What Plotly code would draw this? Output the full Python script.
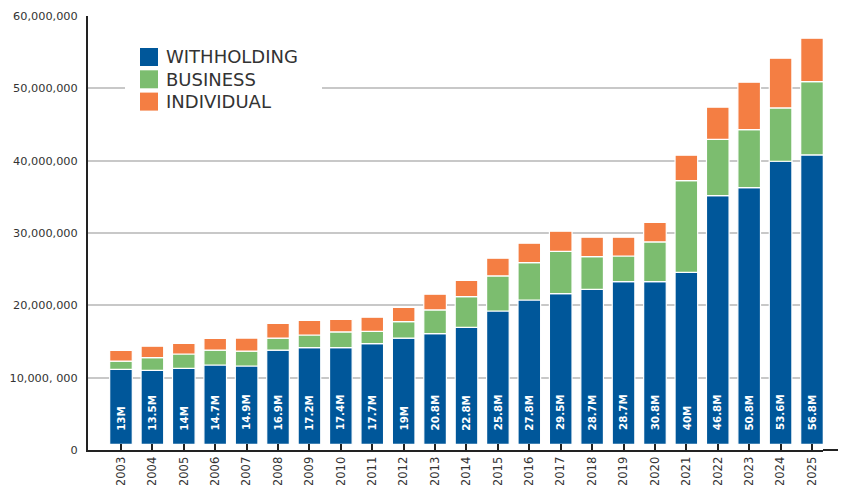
import plotly.graph_objects as go

# ---------------- data (millions) ----------------
years = [str(y) for y in range(2003, 2026)]
withholding = [10.37, 10.24, 10.51, 10.97, 10.83, 13.04, 13.37, 13.37, 13.93, 14.70, 15.31, 16.18,
               18.44, 19.96, 20.84, 21.44, 22.50, 22.50, 23.79, 34.40, 35.50, 39.14, 40.01]
business = [1.15, 1.75, 1.98, 2.07, 2.07, 1.66, 1.75, 2.17, 1.70, 2.26, 3.27, 4.25,
            4.84, 5.17, 5.85, 4.52, 3.54, 5.48, 12.68, 7.75, 8.02, 7.37, 10.15]
individual = [1.48, 1.57, 1.48, 1.62, 1.80, 2.03, 2.03, 1.75, 1.94, 1.98, 2.17, 2.25,
              2.45, 2.67, 2.77, 2.67, 2.59, 2.72, 3.50, 4.47, 6.54, 6.87, 5.99]
total_labels = ["13M", "13.5M", "14M", "14.7M", "14.9M", "16.9M", "17.2M", "17.4M", "17.7M", "19M",
                "20.8M", "22.8M", "25.8M", "27.8M", "29.5M", "28.7M", "28.7M", "30.8M", "40M",
                "46.8M", "50.8M", "53.6M", "56.8M"]
series_names = ["WITHHOLDING", "BUSINESS", "INDIVIDUAL"]
y_tick_values = [0, 10e6, 20e6, 30e6, 40e6, 50e6, 60e6]
y_tick_labels = ["0", "10,000, 000", "20,000,000", "30,000,000", "40,000,000", "50,000,000", "60,000,000"]

# ---------------- styling ----------------
BAR_BASE = 0.78e6  # bars float slightly above the axis in the original
COLORS = ["#00579a", "#7cbd6f", "#f47e43"]
FONT = "DejaVu Sans"
TEXT_COLOR = "#333333"

# page has an 8px body margin -> figure coordinates are page coordinates minus 8
OFF = 8
FIG_W, FIG_H = 846 - OFF, 485 - OFF

M = 1e6
w = [v * M for v in withholding]
b = [v * M for v in business]
i = [v * M for v in individual]
base_w = [BAR_BASE] * len(years)
base_b = [BAR_BASE + a for a in w]
base_i = [BAR_BASE + a + c for a, c in zip(w, b)]

fig = go.Figure()
for vals, base, color, name in zip([w, b, i], [base_w, base_b, base_i], COLORS, series_names):
    fig.add_trace(go.Bar(
        x=years, y=vals, base=base, name=name,
        marker=dict(color=color, line=dict(color="white", width=1.2)),
        showlegend=False,
    ))

# bar labels (totals) inside the withholding bars
annotations = []
for idx, lab in enumerate(total_labels):
    annotations.append(dict(
        x=idx, y=BAR_BASE, xref="x", yref="y", text=lab, showarrow=False,
        textangle=-90, yanchor="bottom", xanchor="center", yshift=12,
        font=dict(family=FONT, size=10.3, color="white", weight="bold"),
    ))

# plot area in page pixels
L, R, T, B = 88, 823, 16, 450


def fx(p):
    return (p - L) / (R - L)


def fy(p):
    return (B - p) / (B - T)


shapes = []
# white box behind legend (interrupts gridline)
shapes.append(dict(type="rect", xref="paper", yref="paper", x0=fx(125), x1=fx(322), y0=fy(118), y1=fy(40),
                   fillcolor="white", line=dict(width=0), layer="above"))
# legend swatches
sw_tops = [48, 70.3, 92.6]
for top, color, name in zip(sw_tops, COLORS, series_names):
    shapes.append(dict(type="rect", xref="paper", yref="paper", x0=fx(140), x1=fx(158),
                       y0=fy(top + 18), y1=fy(top), fillcolor=color, line=dict(width=0), layer="above"))
    annotations.append(dict(x=fx(164), y=fy(top + 9), xref="paper", yref="paper", text=name,
                            showarrow=False, xanchor="left", yanchor="middle",
                            font=dict(family=FONT, size=18, color=TEXT_COLOR)))
# x axis line extends past plot
shapes.append(dict(type="line", xref="paper", yref="paper", x0=1, x1=fx(842), y0=0, y1=0,
                   line=dict(color="#222222", width=2)))

fig.update_layout(
    width=FIG_W, height=FIG_H,
    margin=dict(l=L - OFF, r=846 - R, t=T - OFF, b=485 - B),
    paper_bgcolor="white", plot_bgcolor="white",
    barmode="overlay", bargap=0.28,
    font=dict(family=FONT, color=TEXT_COLOR),
    shapes=shapes, annotations=annotations,
    xaxis=dict(type="category", range=[-1.05, 22.35], showline=True, linecolor="#222222", linewidth=2,
               ticks="inside", ticklen=6, tickwidth=2, tickcolor="#222222", tickangle=-90,
               tickfont=dict(family=FONT, size=11.6, color=TEXT_COLOR), showgrid=False, automargin=False,
               ticklabelstandoff=0),
    yaxis=dict(range=[0, 60e6], tickvals=y_tick_values, ticktext=y_tick_labels, showline=True,
               linecolor="#222222", linewidth=2, showgrid=True, gridcolor="#c8c8c8", gridwidth=2,
               zeroline=False, ticks="", ticklabelstandoff=6,
               tickfont=dict(family=FONT, size=11.3, color=TEXT_COLOR), automargin=False),
)

fig.write_html("out.html")
